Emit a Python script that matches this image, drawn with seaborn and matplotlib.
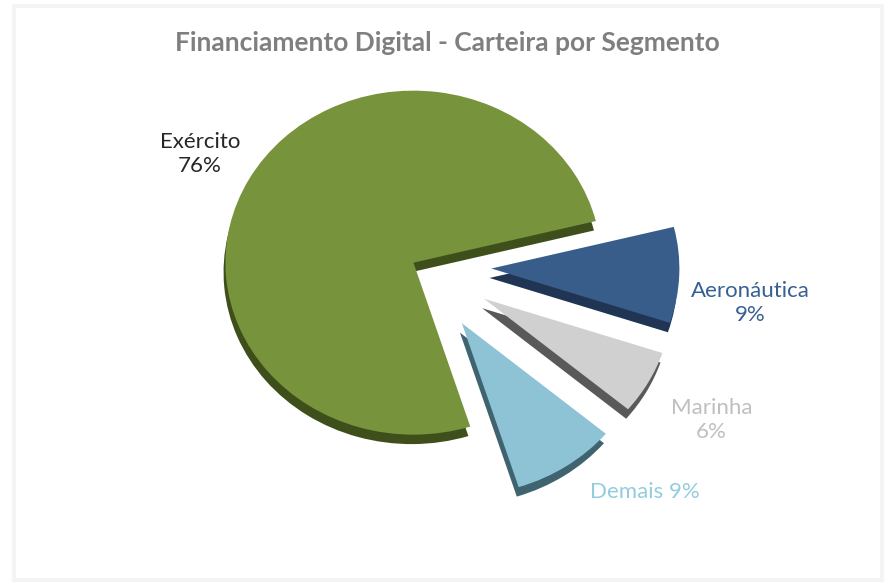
import numpy as np
import matplotlib
matplotlib.use("Agg")
import matplotlib.pyplot as plt
import seaborn as sns
from matplotlib.patches import Rectangle

# dados da carteira
segmentos = ["Exército", "Demais", "Marinha", "Aeronáutica"]
percentuais = [76, 9, 6, 9]
rotulos = ["Exército\n76%", "Demais 9%", "Marinha\n6%", "Aeronáutica\n9%"]

cores = ["#77933C", "#8DC3D5", "#D0D0D0", "#385D8A"]
cores_lado = ["#3E4F1C", "#3F6470", "#595959", "#1F3553"]
cores_texto = ["#262626", "#93CDDD", "#BFBFBF", "#376092"]
explode = [0.04, 0.40, 0.39, 0.38]

sns.set_theme(style="white")
plt.rcParams['font.family'] = ['Lato', 'DejaVu Sans']

fig = plt.figure(figsize=(8.85, 5.88), dpi=100)
fig.patch.set_facecolor("white")

# moldura suave
fig.add_artist(Rectangle((14 / 885, 8 / 588), 868 / 885, 574 / 588,
                         transform=fig.transFigure, fill=False,
                         edgecolor="#F4F4F4", lw=3))

ax = fig.add_axes([0, 0, 1, 1])

# lado (efeito 3d) - pizza deslocada para baixo
ax.pie(percentuais, explode=explode, colors=cores_lado, startangle=14,
       counterclock=True, center=(-0.01, -0.055),
       wedgeprops=dict(linewidth=0))
# face superior
wedges, _ = ax.pie(percentuais, explode=explode, colors=cores, startangle=14,
                   counterclock=True, wedgeprops=dict(linewidth=0))

# rotulos
dist = [1.30, 1.38, 1.40, 1.39]
ajuste = [0, 11, -1, -6]
for w, txt, cor, d, a in zip(wedges, rotulos, cores_texto, dist, ajuste):
    theta = np.deg2rad((w.theta1 + w.theta2) / 2 + a)
    cx, cy = w.center
    ax.text(cx + d * np.cos(theta), cy + d * np.sin(theta), txt,
            ha="center", va="center", color=cor, fontsize=16,
            linespacing=1.25)

ax.set_aspect("auto")
ax.set_xlim(-420 / 188, 465 / 188)
ax.set_ylim(-322 / 172, 266 / 172)
ax.axis("off")

fig.text(0.506, 1 - 43 / 588, "Financiamento Digital - Carteira por Segmento",
         ha="center", va="center", fontsize=19, fontweight="bold",
         color="#7F7F7F")

fig.savefig("out.png", dpi=100, facecolor="white")
